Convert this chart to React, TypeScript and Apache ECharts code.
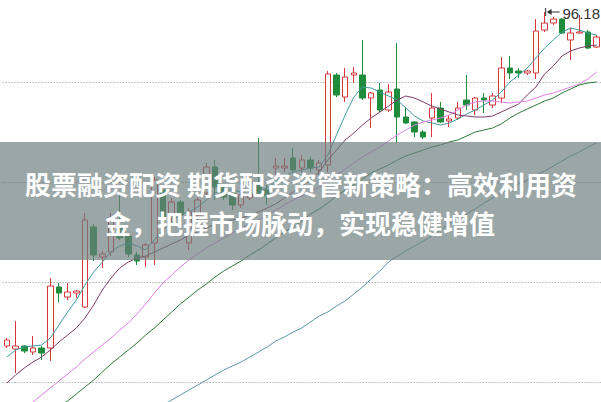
import React, { useEffect, useRef } from "react";
import * as echarts from "echarts";

// 69 trading days
const categories: string[] = Array.from({ length: 69 }, (_, i) => `D${i + 1}`);

// [open, close, low, high]
const candles: number[][] = [
  [62.78, 63.38, 62.58, 63.58],
  [62.48, 62.78, 60.08, 65.28],
  [62.78, 62.28, 62.08, 62.88],
  [62.18, 62.58, 61.88, 63.78],
  [62.58, 62.08, 61.38, 62.78],
  [62.58, 68.78, 61.28, 69.58],
  [68.68, 68.08, 67.18, 69.08],
  [67.68, 68.18, 67.38, 69.08],
  [68.08, 68.28, 67.58, 68.38],
  [66.68, 75.38, 66.58, 76.08],
  [74.68, 71.88, 71.28, 74.98],
  [71.68, 71.98, 70.58, 72.28],
  [72.18, 75.38, 71.78, 76.08],
  [74.78, 73.58, 73.38, 78.08],
  [73.78, 71.98, 71.68, 74.08],
  [71.88, 71.28, 70.88, 72.18],
  [71.68, 72.88, 70.68, 73.08],
  [73.08, 79.38, 70.88, 79.68],
  [78.38, 75.68, 74.88, 78.68],
  [75.58, 77.18, 74.88, 77.58],
  [77.18, 75.88, 75.38, 77.38],
  [73.08, 76.18, 72.38, 76.58],
  [75.88, 77.38, 75.38, 77.88],
  [78.08, 80.68, 77.68, 81.08],
  [80.68, 78.68, 77.38, 81.38],
  [78.58, 77.68, 77.38, 78.88],
  [78.08, 76.88, 76.38, 78.38],
  [76.88, 77.88, 76.58, 78.18],
  [77.58, 77.98, 77.38, 78.58],
  [78.88, 78.08, 77.68, 83.58],
  [78.38, 77.78, 76.88, 78.88],
  [80.58, 80.78, 79.88, 81.58],
  [80.58, 80.78, 80.18, 81.58],
  [81.58, 80.38, 80.18, 82.58],
  [80.58, 81.38, 80.18, 81.88],
  [81.38, 80.58, 80.18, 81.68],
  [80.38, 81.08, 79.88, 81.38],
  [80.88, 89.98, 80.18, 90.28],
  [89.88, 87.88, 87.68, 90.08],
  [87.68, 89.68, 87.18, 90.58],
  [89.88, 90.08, 89.08, 90.68],
  [89.88, 87.58, 87.38, 93.38],
  [87.58, 88.08, 84.58, 88.18],
  [88.38, 86.38, 86.18, 89.08],
  [86.38, 88.18, 86.18, 88.98],
  [88.48, 85.68, 83.08, 93.08],
  [85.68, 85.08, 84.98, 86.68],
  [85.18, 84.18, 83.68, 85.28],
  [84.18, 83.68, 83.48, 84.38],
  [85.58, 86.58, 83.68, 88.08],
  [86.58, 85.18, 85.08, 87.18],
  [85.28, 85.48, 84.68, 85.88],
  [85.58, 86.58, 85.38, 87.18],
  [87.38, 86.88, 86.38, 89.88],
  [86.38, 87.58, 85.88, 87.68],
  [87.58, 87.38, 86.08, 88.08],
  [86.88, 87.78, 86.58, 88.08],
  [87.58, 90.58, 87.08, 91.68],
  [90.58, 90.08, 89.48, 91.78],
  [90.28, 90.08, 89.58, 90.58],
  [90.08, 90.28, 89.88, 90.38],
  [90.08, 94.28, 89.48, 95.48],
  [94.38, 95.08, 94.18, 96.18],
  [95.08, 95.48, 94.88, 95.68],
  [95.48, 94.08, 93.98, 95.58],
  [93.38, 94.08, 91.38, 94.58],
  [94.08, 94.18, 94.08, 95.88],
  [94.18, 92.58, 92.48, 94.38],
  [92.68, 93.68, 92.58, 93.88],
];

const ma5: (number | null)[] = [
  61.68, 62.38, 62.68, 62.78, 62.88, 63.58, 64.88, 66.18, 67.38, 68.88,
  70.18, 71.18, 72.18, 72.78, 73.08, 72.78, 72.38, 73.38, 74.38, 75.18,
  75.98, 76.18, 76.68, 77.38, 78.08, 78.38, 78.38, 78.18, 77.88, 78.18,
  78.58, 79.18, 79.78, 80.18, 80.38, 80.58, 80.68, 81.88, 83.88, 85.88,
  87.68, 88.68, 88.58, 88.18, 87.78, 87.38, 86.58, 85.78, 85.28, 85.08,
  84.88, 85.08, 85.48, 85.98, 86.38, 86.88, 87.38, 88.18, 89.18, 89.88,
  90.58, 91.58, 92.58, 93.38, 94.18, 94.58, 94.38, 94.08, 93.88,
];

const ma10: (number | null)[] = [
  59.08, 59.88, 60.58, 61.18, 61.68, 62.38, 63.18, 63.88, 64.58, 65.58,
  66.88, 68.38, 69.58, 70.58, 71.18, 71.58, 71.78, 72.18, 72.58, 72.98,
  73.38, 73.88, 74.18, 74.58, 74.98, 75.18, 75.38, 75.58, 75.88, 76.18,
  76.58, 76.98, 77.58, 78.18, 78.78, 79.38, 80.18, 81.38, 82.38, 83.38,
  84.08, 84.88, 85.58, 86.18, 86.78, 87.38, 87.78, 87.58, 87.18, 86.78,
  86.48, 86.18, 85.88, 85.78, 85.68, 85.68, 85.78, 86.18, 86.58, 86.98,
  87.88, 88.68, 89.98, 90.78, 91.78, 92.28, 92.58, 92.78, 92.88,
];

const ma20: (number | null)[] = [
  54.88, 55.68, 56.48, 57.18, 57.88, 58.58, 59.28, 59.98, 60.68, 61.48,
  62.18, 62.88, 63.58, 64.38, 65.08, 65.98, 66.98, 68.08, 69.08, 69.88,
  70.68, 71.38, 71.98, 72.58, 73.08, 73.58, 74.08, 74.58, 74.98, 75.38,
  75.88, 76.38, 76.88, 77.38, 77.78, 78.18, 78.68, 79.28, 79.88, 80.48,
  81.08, 81.68, 82.18, 82.68, 83.28, 83.88, 84.38, 84.88, 85.18, 85.38,
  85.58, 85.88, 86.38, 86.88, 87.18, 87.28, 87.28, 87.18, 87.08, 87.18,
  87.28, 87.58, 87.88, 88.08, 88.38, 88.68, 88.98, 89.48, 90.18,
];

const ma60: (number | null)[] = [
  52.88, 53.38, 54.08, 54.88, 55.58, 56.18, 56.78, 57.28, 57.98, 58.68,
  59.38, 60.18, 60.98, 61.68, 62.38, 63.08, 63.88, 64.58, 65.38, 66.18,
  66.98, 67.68, 68.38, 68.98, 69.68, 70.28, 70.78, 71.28, 71.88, 72.38,
  72.98, 73.58, 74.18, 74.68, 75.28, 75.98, 76.48, 77.08, 77.78, 78.38,
  78.88, 79.48, 80.08, 80.48, 80.88, 81.38, 81.78, 82.08, 82.38, 82.68,
  82.88, 83.18, 83.38, 83.78, 84.18, 84.38, 84.58, 84.98, 85.58, 86.08,
  86.48, 86.88, 87.28, 87.58, 88.08, 88.48, 88.88, 89.08, 89.18,
];

const ma120: (number | null)[] = [
  null, null, null, null, null, null, null, null, null, null,
  null, null, null, null, null, null, null, null, 56.88, 57.38,
  57.88, 58.38, 58.88, 59.38, 59.88, 60.38, 60.78, 61.18, 61.68, 62.18,
  62.68, 63.28, 63.68, 64.18, 64.58, 65.18, 65.78, 66.18, 66.78, 67.28,
  67.98, 68.68, 69.48, 70.28, 71.18, 71.78, 72.28, 72.78, 73.28, 73.78,
  74.38, 74.98, 75.48, 75.98, 76.48, 77.08, 77.58, 78.08, 78.48, 78.98,
  79.38, 79.88, 80.28, 80.78, 81.28, 81.78, 82.18, 82.68, 83.08,
];

// visible price range and the dotted grid levels
const yMin = 57.18;
const yMax = 97.38;
const gridLevels: number[] = [59.18, 69.18, 79.18, 89.18];

const highIndex = 62;
const highValue = 96.18;
const highText = "96.18";

const bannerLines: string[] = [
  "股票融资配资 期货配资资管新策略：高效利用资",
  "金，把握市场脉动，实现稳健增值",
];

const UP = "#d8383c";
const DOWN = "#1f8c3b";

export default function App() {
  const ref = useRef<HTMLDivElement>(null);
  useEffect(() => {
    document.body.style.margin = "0";
    const chart = echarts.init(ref.current as HTMLDivElement, null, { renderer: "svg" });
    const line = (name: string, data: (number | null)[], color: string) => ({
      type: "line",
      name,
      data,
      symbol: "none",
      silent: true,
      clip: false,
      lineStyle: { width: 1, color },
      itemStyle: { color },
      z: 3,
    });
    chart.setOption({
      animation: false,
      backgroundColor: "#ffffff",
      grid: { left: 2.6, right: 0, top: 0, bottom: 0 },
      xAxis: { type: "category", data: categories, show: false, boundaryGap: true },
      yAxis: {
        type: "value",
        min: yMin,
        max: yMax,
        show: false,
        splitLine: { show: false },
      },
      series: [
        {
          type: "candlestick",
          data: candles,
          barWidth: 6,
          silent: true,
          clip: false,
          itemStyle: {
            color: "#ffffff",
            color0: DOWN,
            borderColor: UP,
            borderColor0: DOWN,
            borderWidth: 1,
          },
          markLine: {
            silent: true,
            symbol: "none",
            label: { show: false },
            lineStyle: { color: "#8e8e8e", type: [1, 2], width: 1 },
            data: gridLevels.map((v) => ({ yAxis: v })),
            z: 1,
          },
          z: 2,
        },
        line("MA5", ma5, "#3f9b9e"),
        line("MA10", ma10, "#7d3d68"),
        line("MA20", ma20, "#e07fe6"),
        line("MA60", ma60, "#2c7a3c"),
        line("MA120", ma120, "#5a98a6"),
      ],
    });
    const p = chart.convertToPixel({ seriesIndex: 0 }, [highIndex, highValue]) as number[];
    const px = p[0];
    const py = p[1];
    chart.setOption({
      graphic: [
        { type: "line", z: 50, shape: { x1: px + 1, y1: py - 4, x2: px + 1, y2: py + 4 }, style: { stroke: "#333", lineWidth: 1 } },
        { type: "polygon", z: 50, shape: { points: [[px + 2, py], [px + 7, py - 3], [px + 7, py + 3]] }, style: { fill: "#333" } },
        { type: "line", z: 50, shape: { x1: px + 6, y1: py, x2: px + 15, y2: py }, style: { stroke: "#333", lineWidth: 1 } },
        {
          type: "text",
          z: 50,
          x: 600,
          y: py + 1,
          style: { text: highText, fill: "#333", fontSize: 15, fontFamily: "Liberation Sans, Arial, sans-serif", verticalAlign: "middle", align: "right" },
        },
        { type: "rect", z: 100, shape: { x: 0, y: 142, width: 601, height: 118 }, style: { fill: "rgba(108,126,126,0.68)" } },
        {
          type: "text",
          z: 101,
          x: 301,
          y: 183,
          style: { text: bannerLines[0], fill: "#ffffff", fontSize: 26, fontWeight: "bold", fontFamily: "Noto Sans CJK SC", align: "center", verticalAlign: "middle" },
        },
        {
          type: "text",
          z: 101,
          x: 300,
          y: 222,
          style: { text: bannerLines[1], fill: "#ffffff", fontSize: 26, fontWeight: "bold", fontFamily: "Noto Sans CJK SC", align: "center", verticalAlign: "middle" },
        },
      ],
    });
    return () => chart.dispose();
  }, []);
  return <div ref={ref} style={{ position: "absolute", left: 0, top: 0, width: 601, height: 402 }} />;
}
